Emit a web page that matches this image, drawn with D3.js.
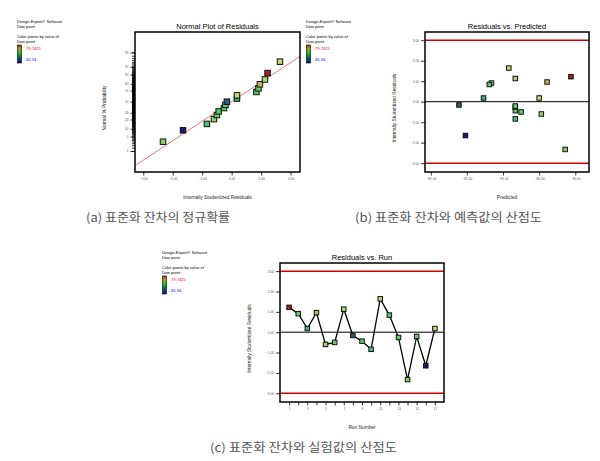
<!DOCTYPE html>
<html><head><meta charset="utf-8">
<script src="https://cdn.jsdelivr.net/npm/d3@7"></script>
<style>
html,body{margin:0;padding:0;background:#fff;}
svg{display:block;}
text{font-family:"Liberation Sans",Arial,sans-serif;}
.cap{font-family:"Noto Sans CJK KR",sans-serif;fill:#555;}
</style></head>
<body>
<svg id="c" width="600" height="461"></svg>
<script>
// ---------- data ----------
const runs = [1,2,3,4,5,6,7,8,9,10,11,12,13,14,15,16,17];
const residuals = [1.22, 0.91, 0.18, 0.96, -0.60, -0.50, 1.13, -0.16, -0.44, -0.84, 1.64, 0.84, -0.26, -2.33, -0.21, -1.65, 0.18];
const predicted = [-80.06, -81.16, -81.27, -80.39, -80.47, -80.75, -80.83, -81.61, -80.83, -80.83, -80.92, -81.19, -80.83, -80.14, -80.83, -81.52, -80.50];
const dewPoint = [-79.74, -80.92, -81.22, -80.14, -80.63, -80.88, -80.54, -81.65, -80.94, -81.05, -80.49, -80.97, -80.90, -80.75, -80.88, -81.94, -80.45];
const colorRange = [-81.94, -79.7425];
const colorLabels = ["-79.7425", "-81.94"];
const legendLines = ["Design-Expert\u00AE Software", "Dew point", "Color points by value of", "Dew point:"];
const normalXTicks = [-3, -2, -1, 0, 1, 2];
const probMajor = [1, 5, 10, 20, 30, 50, 70, 80, 90, 95, 99];
const residTicks = [-3, -2, -1, 0, 1, 2, 3];
const predTicks = [-82.0, -81.5, -81.0, -80.5, -80.0];
const runTicks = [1,3,5,7,9,11,13,15,17];
const titles = ["Normal Plot of Residuals", "Residuals vs. Predicted", "Residuals vs. Run"];
const xLabels = ["Internally Studentized Residuals", "Predicted", "Run Number"];
const yLabels = ["Normal % Probability", "Internally Studentized Residuals", "Internally Studentized Residuals"];
const captions = ["(a) 표준화 잔차의 정규확률", "(b) 표준화 잔차와 예측값의 산점도", "(c) 표준화 잔차와 실험값의 산점도"];
const lineMean = 0, lineSd = 1.085;

// ---------- helpers ----------
function invNorm(p){
  const a=[-3.969683028665376e+01,2.209460984245205e+02,-2.759285104469687e+02,1.383577518672690e+02,-3.066479806614716e+01,2.506628277459239e+00];
  const b=[-5.447609879822406e+01,1.615858368580409e+02,-1.556989798598866e+02,6.680131188771972e+01,-1.328068155288572e+01];
  const c=[-7.784894002430293e-03,-3.223964580411365e-01,-2.400758277161838e+00,-2.549732539343734e+00,4.374664141464968e+00,2.938163982698783e+00];
  const d=[7.784695709041462e-03,3.224671290700398e-01,2.445134137142996e+00,3.754408661907416e+00];
  const pl=0.02425, ph=1-pl; let q,r;
  if(p<pl){q=Math.sqrt(-2*Math.log(p));return (((((c[0]*q+c[1])*q+c[2])*q+c[3])*q+c[4])*q+c[5])/((((d[0]*q+d[1])*q+d[2])*q+d[3])*q+1);}
  if(p<=ph){q=p-0.5;r=q*q;return (((((a[0]*r+a[1])*r+a[2])*r+a[3])*r+a[4])*r+a[5])*q/(((((b[0]*r+b[1])*r+b[2])*r+b[3])*r+b[4])*r+1);}
  q=Math.sqrt(-2*Math.log(1-p));return -(((((c[0]*q+c[1])*q+c[2])*q+c[3])*q+c[4])*q+c[5])/((((d[0]*q+d[1])*q+d[2])*q+d[3])*q+1);
}
const svg = d3.select("#c");
const color = d3.scaleLinear()
  .domain([0,0.25,0.5,0.75,1].map(t=>colorRange[0]+t*(colorRange[1]-colorRange[0])))
  .range(["#1a1a78","#3a9a8a","#66d466","#e2e272","#a82020"]);

const defs = svg.append("defs");
const grad = defs.append("linearGradient").attr("id","cg").attr("x1",0).attr("y1",1).attr("x2",0).attr("y2",0);
[["#0a0a90",0],["#007a40",0.35],["#30b030",0.55],["#a8a020",0.8],["#a03010",1]].forEach(s=>grad.append("stop").attr("offset",s[1]).attr("stop-color",s[0]));

function legend(x,y){
  const g = svg.append("g").attr("transform",`translate(${x},${y})`);
  g.append("text").attr("x",0).attr("y",0).attr("font-size",4).text(legendLines[0]);
  g.append("text").attr("x",0).attr("y",4.5).attr("font-size",4).text(legendLines[1]);
  g.append("text").attr("x",0).attr("y",15).attr("font-size",4).text(legendLines[2]);
  g.append("text").attr("x",0).attr("y",19.5).attr("font-size",4).text(legendLines[3]);
  g.append("rect").attr("x",0.5).attr("y",22).attr("width",4).attr("height",18).attr("fill","url(#cg)").attr("stroke","#000").attr("stroke-width",0.6);
  g.append("text").attr("x",8).attr("y",27).attr("font-size",4).attr("fill","#e00").text(colorLabels[0]);
  g.append("text").attr("x",8).attr("y",38).attr("font-size",4).attr("fill","#00e").text(colorLabels[1]);
}

function frame(box){
  svg.append("rect").attr("x",box.x0).attr("y",box.y0).attr("width",box.x1-box.x0).attr("height",box.y1-box.y0)
    .attr("fill","none").attr("stroke","#000").attr("stroke-width",1.5);
}
function texts(box,i,capY,capX,capW){
  const cx=(box.x0+box.x1)/2;
  svg.append("text").attr("x",cx).attr("y",box.y0-3).attr("text-anchor","middle").attr("font-size",7.5).text(titles[i]);
  svg.append("text").attr("x",cx).attr("y",box.y1+27).attr("text-anchor","middle").attr("font-size",4.8).attr("fill","#222").text(xLabels[i]);
  const ym=(box.y0+box.y1)/2+6;
  svg.append("text").attr("transform",`translate(${box.x0-29},${ym}) rotate(-90)`).attr("text-anchor","middle").attr("font-size",4.8).attr("fill","#222").text(yLabels[i]);
  svg.append("text").attr("class","cap").attr("x",capX).attr("y",capY).attr("font-size",12)
    .attr("textLength",capW).attr("lengthAdjust","spacingAndGlyphs").text(captions[i]);
}
function styleAxis(g){
  g.select(".domain").remove();
  g.selectAll(".tick line").attr("stroke","#000").attr("stroke-width",0.8);
  g.selectAll(".tick text").attr("font-size",3.2).attr("fill","#555").attr("font-family","Liberation Sans, Arial");
}

// ---------- (a) Normal plot ----------
{
  const box={x0:135,x1:300,y0:32,y1:172};
  const x=d3.scaleLinear().domain([-3.28,2.32]).range([box.x0,box.x1]);
  const y=d3.scaleLinear().domain([-3.32,3.29]).range([box.y1,box.y0]);
  legend(17,23);
  texts(box,0,222,86,144);
  // minor probability ticks
  const gm=svg.append("g").attr("transform",`translate(${box.x0},0)`)
    .call(d3.axisLeft(y).tickValues(d3.range(1,99.01,0.5).map(p=>invNorm(p/100))).tickSize(3).tickFormat(""));
  styleAxis(gm);
  const ga=svg.append("g").attr("transform",`translate(${box.x0},0)`)
    .call(d3.axisLeft(y).tickValues(probMajor.map(p=>invNorm(p/100))).tickSize(4.5).tickPadding(2)
    .tickFormat((d,i)=>probMajor[i]));
  styleAxis(ga);
  const gx=svg.append("g").attr("transform",`translate(0,${box.y1})`)
    .call(d3.axisBottom(x).tickValues(normalXTicks).tickSize(3.5).tickPadding(2).tickFormat(d3.format(".2f")));
  styleAxis(gx);
  // reference line
  defs.append("clipPath").attr("id","clipA").append("rect").attr("x",box.x0).attr("y",box.y0).attr("width",box.x1-box.x0).attr("height",box.y1-box.y0);
  const xd=x.domain();
  svg.append("line").attr("clip-path","url(#clipA)")
    .attr("x1",x(xd[0])).attr("y1",y((xd[0]-lineMean)/lineSd))
    .attr("x2",x(xd[1])).attr("y2",y((xd[1]-lineMean)/lineSd))
    .attr("stroke","#ee7777").attr("stroke-width",1);
  const n=residuals.length;
  const order=d3.range(n).sort((a,b)=>residuals[a]-residuals[b]);
  const pts=order.map((k,i)=>({r:residuals[k],z:invNorm((i+0.5)/n),c:color(dewPoint[k])}));
  const s=5.5;
  svg.append("g").selectAll("rect").data(pts).join("rect")
    .attr("x",d=>x(d.r)-s/2).attr("y",d=>y(d.z)-s/2).attr("width",s).attr("height",s)
    .attr("fill",d=>d.c).attr("stroke","#111").attr("stroke-width",1);
  frame(box);
}

// ---------- (b) Residuals vs Predicted ----------
{
  const box={x0:425,x1:589,y0:32,y1:172};
  const x=d3.scaleLinear().domain([-82.08,-79.81]).range([box.x0,box.x1]);
  const y=d3.scaleLinear().domain([-3.43,3.40]).range([box.y1,box.y0]);
  legend(306,23);
  texts(box,1,222,355,187);
  const gy=svg.append("g").attr("transform",`translate(${box.x0},0)`)
    .call(d3.axisLeft(y).tickValues(residTicks).tickSize(4).tickPadding(2).tickFormat(d3.format(".2f")));
  styleAxis(gy);
  const gx=svg.append("g").attr("transform",`translate(0,${box.y1})`)
    .call(d3.axisBottom(x).tickValues(predTicks).tickSize(3.5).tickPadding(2).tickFormat(d3.format(".2f")));
  styleAxis(gx);
  [3,-3].forEach(v=>svg.append("line").attr("x1",box.x0).attr("x2",box.x1).attr("y1",y(v)).attr("y2",y(v)).attr("stroke","#d00000").attr("stroke-width",1.5));
  svg.append("line").attr("x1",box.x0).attr("x2",box.x1).attr("y1",y(0)).attr("y2",y(0)).attr("stroke","#000").attr("stroke-width",1);
  const s=4.5;
  svg.append("g").selectAll("rect").data(runs.map((r,i)=>i)).join("rect")
    .attr("x",i=>x(predicted[i])-s/2).attr("y",i=>y(residuals[i])-s/2).attr("width",s).attr("height",s)
    .attr("fill",i=>color(dewPoint[i])).attr("stroke","#111").attr("stroke-width",1);
  frame(box);
}

// ---------- (c) Residuals vs Run ----------
{
  const box={x0:280,x1:444,y0:263,y1:402};
  const x=d3.scaleLinear().domain([0,18]).range([box.x0,box.x1]);
  const y=d3.scaleLinear().domain([-3.43,3.40]).range([box.y1,box.y0]);
  legend(162,254);
  texts(box,2,452,210,187);
  const gy=svg.append("g").attr("transform",`translate(${box.x0},0)`)
    .call(d3.axisLeft(y).tickValues(residTicks).tickSize(4).tickPadding(2).tickFormat(d3.format(".2f")));
  styleAxis(gy);
  const gx=svg.append("g").attr("transform",`translate(0,${box.y1})`)
    .call(d3.axisBottom(x).tickValues(runs).tickSize(3.5).tickPadding(2).tickFormat(d=>runTicks.includes(d)?d:""));
  styleAxis(gx);
  [3,-3].forEach(v=>svg.append("line").attr("x1",box.x0).attr("x2",box.x1).attr("y1",y(v)).attr("y2",y(v)).attr("stroke","#d00000").attr("stroke-width",1.5));
  svg.append("line").attr("x1",box.x0).attr("x2",box.x1).attr("y1",y(0)).attr("y2",y(0)).attr("stroke","#000").attr("stroke-width",1);
  svg.append("path").datum(runs.map((r,i)=>i))
    .attr("d",d3.line().x(i=>x(runs[i])).y(i=>y(residuals[i])))
    .attr("fill","none").attr("stroke","#000").attr("stroke-width",1.3);
  const s=4.5;
  svg.append("g").selectAll("rect").data(runs.map((r,i)=>i)).join("rect")
    .attr("x",i=>x(runs[i])-s/2).attr("y",i=>y(residuals[i])-s/2).attr("width",s).attr("height",s)
    .attr("fill",i=>color(dewPoint[i])).attr("stroke","#111").attr("stroke-width",1);
  frame(box);
}
</script>
</body></html>
